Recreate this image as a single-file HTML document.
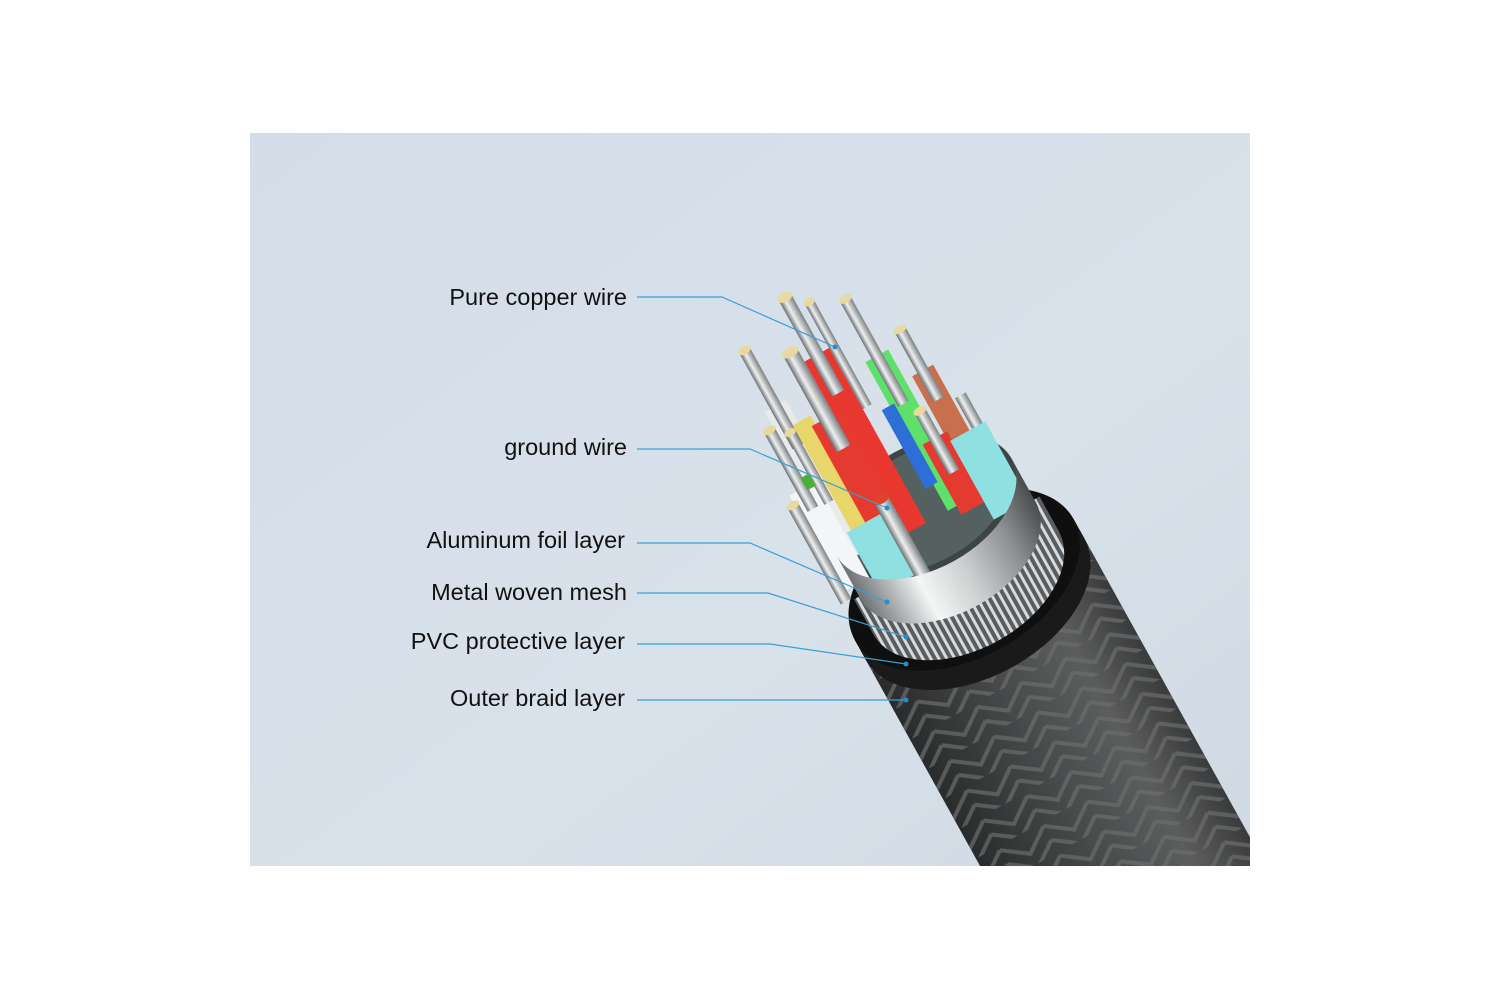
<!DOCTYPE html>
<html><head><meta charset="utf-8"><style>
html,body{margin:0;padding:0;background:#fff;width:1500px;height:1000px;overflow:hidden}
svg{display:block}
text{font-family:"Liberation Sans",sans-serif;font-size:23.5px;fill:#111}
</style></head><body>
<svg width="1500" height="1000" viewBox="0 0 1500 1000">
<defs>
<linearGradient id="bg" x1="0" y1="0" x2="1" y2="1">
<stop offset="0" stop-color="#d3dde8"/><stop offset="0.6" stop-color="#d9e2eb"/><stop offset="1" stop-color="#cfd9e3"/>
</linearGradient>
<clipPath id="pc"><rect x="250" y="133" width="1000" height="733"/></clipPath>
<linearGradient id="silver" x1="0" y1="0" x2="1" y2="0">
<stop offset="0" stop-color="#6e7274"/><stop offset="0.3" stop-color="#f4f6f6"/><stop offset="0.55" stop-color="#c9cccc"/><stop offset="0.8" stop-color="#8a8e90"/><stop offset="1" stop-color="#4a4d4f"/>
</linearGradient>
<linearGradient id="wire" x1="0" y1="0" x2="1" y2="0">
<stop offset="0" stop-color="#6b6f72"/><stop offset="0.4" stop-color="#eef0f0"/><stop offset="1" stop-color="#7c8083"/>
</linearGradient>
<linearGradient id="braidg" x1="0" y1="0" x2="1" y2="0">
<stop offset="0" stop-color="#2a2b2c"/><stop offset="0.45" stop-color="#4a4b4c"/><stop offset="0.75" stop-color="#5c5d5e"/><stop offset="1" stop-color="#3a3b3c"/>
</linearGradient>
<pattern id="chev" width="50" height="34" patternUnits="userSpaceOnUse">
<path d="M0 4 L25 22 L50 4 M0 20 L25 38 L50 20" stroke="#6b6c6d" stroke-width="4" fill="none" opacity="0.7"/>
</pattern>
<pattern id="knurl" width="7" height="10" patternUnits="userSpaceOnUse">
<rect width="7" height="10" fill="#5a5d60"/><rect x="1" width="3" height="10" fill="#d8dbdd"/>
</pattern>
</defs>
<rect x="250" y="133" width="1000" height="733" fill="url(#bg)"/>
<g clip-path="url(#pc)">
<g transform="translate(970,590) rotate(-29)">
<rect x="-125" y="0" width="250" height="620" fill="url(#braidg)"/>
<rect x="-125" y="0" width="250" height="620" fill="url(#chev)"/>
<rect x="-125" y="-12" width="250" height="22" fill="#151515"/>
<ellipse cx="0" cy="10" rx="125" ry="78" fill="#1a1a1a"/>
<ellipse cx="0" cy="-12" rx="125" ry="78" fill="#0f0f0f"/>
<rect x="-106" y="-48" width="212" height="40" fill="url(#knurl)"/>
<ellipse cx="0" cy="-8" rx="106" ry="66" fill="url(#knurl)"/>
<rect x="-100" y="-95" width="200" height="50" fill="url(#silver)"/>
<ellipse cx="0" cy="-45" rx="100" ry="62" fill="url(#silver)"/>
<ellipse cx="0" cy="-95" rx="100" ry="62" fill="#3c4446"/>
<ellipse cx="0" cy="-95" rx="92" ry="56" fill="#556060"/>
<g>
<rect x="19" y="-250" width="26" height="170" fill="#5fe06a"/>
<rect x="26" y="-315" width="12" height="120" fill="url(#wire)"/><ellipse cx="32" cy="-315" rx="7" ry="4" fill="#e8d9a0"/>
<rect x="53" y="-215" width="24" height="130" fill="#c8704e"/>
<rect x="59" y="-262" width="12" height="80" fill="url(#wire)"/><ellipse cx="65" cy="-262" rx="7" ry="4" fill="#e8d9a0"/>
<rect x="-34" y="-280" width="28" height="200" fill="#e8372e"/>
<rect x="-27" y="-346" width="14" height="110" fill="url(#wire)"/><ellipse cx="-20" cy="-346" rx="8" ry="5" fill="#e8d9a0"/>
<rect x="-6" y="-330" width="10" height="120" fill="url(#wire)"/><ellipse cx="-1" cy="-330" rx="6" ry="4" fill="#e8d9a0"/>
<rect x="-93" y="-255" width="24" height="170" fill="#e8eaec"/>
<rect x="-87" y="-319" width="12" height="110" fill="url(#wire)"/><ellipse cx="-81" cy="-319" rx="7" ry="4" fill="#e8d9a0"/>
<rect x="-75" y="-230" width="20" height="140" fill="#e8d66a"/>
<rect x="-59" y="-220" width="34" height="140" fill="#e53a30"/>
<rect x="-50" y="-295" width="16" height="110" fill="url(#wire)"/><ellipse cx="-42" cy="-295" rx="9" ry="5" fill="#e8d9a0"/>
<rect x="10" y="-200" width="14" height="90" fill="#2d6fd6"/>
<rect x="29" y="-150" width="28" height="80" fill="#e53a30"/>
<rect x="37" y="-181" width="12" height="70" fill="url(#wire)"/><ellipse cx="43" cy="-181" rx="7" ry="4" fill="#e8d9a0"/>
<rect x="80" y="-175" width="12" height="90" fill="url(#wire)"/>
<rect x="-112" y="-170" width="30" height="110" fill="#f4f5f6"/>
<rect x="-104" y="-237" width="12" height="90" fill="url(#wire)"/><ellipse cx="-98" cy="-237" rx="7" ry="4" fill="#e8d9a0"/>
<rect x="-86" y="-225" width="10" height="80" fill="url(#wire)"/><ellipse cx="-81" cy="-225" rx="6" ry="4" fill="#e8d9a0"/>
<rect x="-94" y="-180" width="10" height="14" fill="#4caf3c"/>
<rect x="55" y="-140" width="40" height="90" fill="#8fe0e0"/>
<rect x="-80" y="-110" width="42" height="70" fill="#8fe0e0"/>
<rect x="-120" y="-160" width="12" height="110" fill="url(#wire)"/><ellipse cx="-114" cy="-160" rx="7" ry="4" fill="#e8d9a0"/>
<rect x="-42" y="-123" width="16" height="90" fill="url(#wire)"/><ellipse cx="-34" cy="-123" rx="9" ry="5" fill="#e0422e"/>
</g>
<path d="M-100 -95 A100 62 0 0 0 100 -95 L100 -45 A100 62 0 0 1 -100 -45 Z" fill="url(#silver)"/>
</g>
</g>
<g stroke="#3a9fd6" stroke-width="1.2" fill="none">
<polyline points="637,297 722,297 835,347"/>
<polyline points="637,449 750,449 887,508"/>
<polyline points="637,543 750,543 887,602"/>
<polyline points="637,593 768,593 906,637"/>
<polyline points="637,644 770,644 906,664"/>
<polyline points="637,700 906,700"/>
</g>
<g fill="#1f8fd0">
<circle cx="835" cy="347" r="2.5"/><circle cx="887" cy="508" r="2.5"/><circle cx="887" cy="602" r="2.5"/>
<circle cx="906" cy="637" r="2.5"/><circle cx="906" cy="664" r="2.5"/><circle cx="906" cy="700" r="2.5"/>
</g>
<g text-anchor="end">
<text x="627" y="305">Pure copper wire</text>
<text x="627" y="455">ground wire</text>
<text x="625" y="548">Aluminum foil layer</text>
<text x="627" y="600">Metal woven mesh</text>
<text x="625" y="649">PVC protective layer</text>
<text x="625" y="706">Outer braid layer</text>
</g>
</svg>
</body></html>
